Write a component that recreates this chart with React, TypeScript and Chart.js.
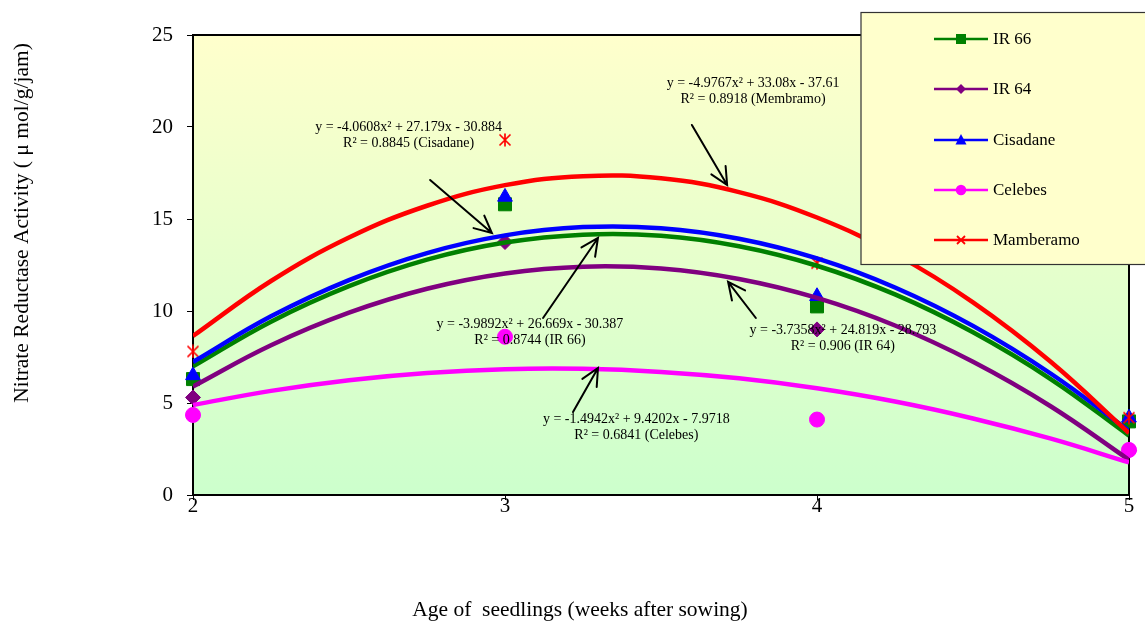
import React, { useEffect, useRef } from 'react';
import { Chart, registerables } from 'chart.js';

Chart.register(...registerables);

// ---- Data ----
const weeks = [2, 3, 4, 5];
const ir66 = [6.3, 15.8, 10.25, 4.0];
const ir64 = [5.3, 13.75, 9.0, 2.4];
const cisadane = [6.5, 16.2, 10.8, 4.2];
const celebes = [4.35, 8.6, 4.1, 2.45];
const mamberamo = [7.8, 19.3, 12.6, 4.2];

// Trend-line samples
const trendX = [2, 2.25, 2.5, 2.75, 3, 3.25, 3.5, 3.75, 4, 4.25, 4.5, 4.75, 5];
const trendIR66 = [6.99, 9.42, 11.35, 12.79, 13.72, 14.15, 14.09, 13.52, 12.46, 10.9, 8.84, 6.29, 3.23];
const trendIR64 = [5.9, 8.14, 9.91, 11.21, 12.04, 12.41, 12.31, 11.74, 10.71, 9.21, 7.24, 4.81, 1.91];
const trendCisadane = [7.23, 9.71, 11.68, 13.15, 14.11, 14.56, 14.5, 13.93, 12.86, 11.28, 9.19, 6.59, 3.49];
const trendCelebes = [4.89, 5.66, 6.24, 6.63, 6.84, 6.86, 6.69, 6.34, 5.8, 5.08, 4.16, 3.06, 1.77];
const trendMamberamo = [8.64, 11.63, 13.99, 15.72, 16.84, 17.33, 17.21, 16.46, 15.08, 13.09, 10.47, 7.23, 3.37];

const seriesNames = ['IR 66', 'IR 64', 'Cisadane', 'Celebes', 'Mamberamo'];
const xTicks = [2, 3, 4, 5];
const yTicks = [0, 5, 10, 15, 20, 25];

const COLORS = ['#008000', '#800080', '#0000FF', '#FF00FF', '#FF0000'];
const SERIF = "'Liberation Serif', 'DejaVu Serif', serif";

const annotations = [
  { lines: ['y = -4.0608x\u00B2 + 27.179x - 30.884', 'R\u00B2 = 0.8845 (Cisadane)'], at: [2.691, 19.97], from: [2.76, 17.12], to: [2.958, 14.24] },
  { lines: ['y = -4.9767x\u00B2 + 33.08x - 37.61', 'R\u00B2 = 0.8918 (Membramo)'], at: [3.795, 22.39], from: [3.599, 20.11], to: [3.712, 16.85] },
  { lines: ['y = -3.9892x\u00B2 + 26.669x - 30.387', 'R\u00B2 = 0.8744 (IR 66)'], at: [3.08, 9.29], from: [3.122, 9.62], to: [3.298, 13.97] },
  { lines: ['y = -3.7358x\u00B2 + 24.819x - 28.793', 'R\u00B2 = 0.906 (IR 64)'], at: [4.083, 8.97], from: [3.804, 9.62], to: [3.715, 11.58] },
  { lines: ['y = -1.4942x\u00B2 + 9.4202x - 7.9718', 'R\u00B2 = 0.6841 (Celebes)'], at: [3.421, 4.13], from: [3.218, 4.51], to: [3.298, 6.9] },
];

function makeStar(color: string, size: number, lw: number) {
  const c = document.createElement('canvas');
  c.width = size;
  c.height = size;
  const g = c.getContext('2d')!;
  g.strokeStyle = color;
  g.lineWidth = lw;
  const m = 1.5;
  g.beginPath();
  g.moveTo(m, m);
  g.lineTo(size - m, size - m);
  g.moveTo(size - m, m);
  g.lineTo(m, size - m);
  g.moveTo(size / 2, 0.5);
  g.lineTo(size / 2, size - 0.5);
  g.stroke();
  return c;
}

function drawMarker(ctx: CanvasRenderingContext2D, kind: number, x: number, y: number, s: number, color: string) {
  ctx.save();
  ctx.fillStyle = color;
  ctx.strokeStyle = color;
  ctx.beginPath();
  if (kind === 0) {
    ctx.rect(x - s, y - s, 2 * s, 2 * s);
    ctx.fill();
  } else if (kind === 1) {
    ctx.moveTo(x, y - s * 1.1);
    ctx.lineTo(x + s * 1.1, y);
    ctx.lineTo(x, y + s * 1.1);
    ctx.lineTo(x - s * 1.1, y);
    ctx.closePath();
    ctx.fill();
  } else if (kind === 2) {
    ctx.moveTo(x, y - s * 1.2);
    ctx.lineTo(x + s * 1.1, y + s * 0.9);
    ctx.lineTo(x - s * 1.1, y + s * 0.9);
    ctx.closePath();
    ctx.fill();
  } else if (kind === 3) {
    ctx.arc(x, y, s * 1.05, 0, Math.PI * 2);
    ctx.fill();
  } else {
    ctx.lineWidth = 1.8;
    ctx.moveTo(x - s, y - s);
    ctx.lineTo(x + s, y + s);
    ctx.moveTo(x + s, y - s);
    ctx.lineTo(x - s, y + s);
    ctx.stroke();
  }
  ctx.restore();
}

function drawArrow(ctx: CanvasRenderingContext2D, x1: number, y1: number, x2: number, y2: number) {
  const ang = Math.atan2(y2 - y1, x2 - x1);
  const head = 19;
  const spread = 0.45;
  ctx.save();
  ctx.strokeStyle = '#000';
  ctx.lineWidth = 2;
  ctx.lineCap = 'round';
  ctx.beginPath();
  ctx.moveTo(x1, y1);
  ctx.lineTo(x2, y2);
  ctx.moveTo(x2 - head * Math.cos(ang - spread), y2 - head * Math.sin(ang - spread));
  ctx.lineTo(x2, y2);
  ctx.lineTo(x2 - head * Math.cos(ang + spread), y2 - head * Math.sin(ang + spread));
  ctx.stroke();
  ctx.restore();
}

const decorPlugin = {
  id: 'decor',
  beforeDatasetsDraw(chart: any) {
    const { ctx, chartArea: a } = chart;
    ctx.save();
    const grad = ctx.createLinearGradient(0, a.top, 0, a.bottom);
    grad.addColorStop(0, '#FFFFCC');
    grad.addColorStop(1, '#CCFFCC');
    ctx.fillStyle = grad;
    ctx.fillRect(a.left, a.top, a.right - a.left, a.bottom - a.top);
    ctx.strokeStyle = '#000';
    ctx.lineWidth = 2;
    ctx.strokeRect(a.left, a.top, a.right - a.left, a.bottom - a.top);
    ctx.restore();
  },
  afterDatasetsDraw(chart: any) {
    const { ctx } = chart;
    const xs = chart.scales.x;
    const ys = chart.scales.y;
    ctx.save();
    ctx.fillStyle = '#000';
    ctx.font = `14px ${SERIF}`;
    ctx.textAlign = 'center';
    ctx.textBaseline = 'middle';
    annotations.forEach((an) => {
      const cx = xs.getPixelForValue(an.at[0]);
      const cy = ys.getPixelForValue(an.at[1]);
      an.lines.forEach((l, i) => ctx.fillText(l, cx, cy + i * 16));
      drawArrow(
        ctx,
        xs.getPixelForValue(an.from[0]),
        ys.getPixelForValue(an.from[1]),
        xs.getPixelForValue(an.to[0]),
        ys.getPixelForValue(an.to[1])
      );
    });
    ctx.restore();
  },
  afterDraw(chart: any) {
    const { ctx } = chart;
    ctx.save();
    // Legend box
    ctx.fillStyle = '#FFFFCC';
    ctx.fillRect(861, 12.5, 300, 252);
    ctx.strokeStyle = '#333';
    ctx.lineWidth = 1.2;
    ctx.strokeRect(861, 12.5, 300, 252);
    const rowY = [39, 89, 140, 190, 240];
    const sizes = [5, 4.5, 5, 5, 4];
    seriesNames.forEach((name, i) => {
      const y = rowY[i];
      ctx.strokeStyle = COLORS[i];
      ctx.lineWidth = 2.5;
      ctx.beginPath();
      ctx.moveTo(934, y);
      ctx.lineTo(988, y);
      ctx.stroke();
      drawMarker(ctx, i, 961, y, sizes[i], COLORS[i]);
      ctx.fillStyle = '#000';
      ctx.font = `17px ${SERIF}`;
      ctx.textAlign = 'left';
      ctx.textBaseline = 'middle';
      ctx.fillText(name, 993, y + 1);
    });
    // Axis titles
    ctx.fillStyle = '#000';
    ctx.font = `21.5px ${SERIF}`;
    ctx.textAlign = 'center';
    ctx.textBaseline = 'middle';
    ctx.fillText('Age of  seedlings (weeks after sowing)', 580, 610);
    ctx.translate(22, 223);
    ctx.rotate(-Math.PI / 2);
    ctx.fillText('Nitrate Reductase Activity ( \u03BC mol/g/jam)', 0, 0);
    ctx.restore();
  },
};

export default function App() {
  const ref = useRef<HTMLCanvasElement | null>(null);

  useEffect(() => {
    document.body.style.margin = '0';
    if (!ref.current) return;
    const star = makeStar('#FF0000', 14, 1.7);
    const pts = (arr: number[]) => weeks.map((w, i) => ({ x: w, y: arr[i] }));
    const trend = (arr: number[]) => trendX.map((w, i) => ({ x: w, y: arr[i] }));
    const values = [ir66, ir64, cisadane, celebes, mamberamo];
    const trends = [trendIR66, trendIR64, trendCisadane, trendCelebes, trendMamberamo];
    const styles: any[] = ['rect', 'rectRot', 'triangle', 'circle', star];
    const radii = [9.2, 7.5, 8.5, 7.5, 7];

    const markerSets = values.map((v, i) => ({
      type: 'scatter',
      label: seriesNames[i],
      data: pts(v),
      showLine: false,
      clip: false,
      pointStyle: styles[i],
      pointRadius: radii[i],
      pointBackgroundColor: COLORS[i],
      pointBorderColor: COLORS[i],
      pointBorderWidth: 1,
      order: 10 - i,
    }));
    const trendSets = trends.map((t, i) => ({
      type: 'line',
      label: seriesNames[i] + ' trend',
      data: trend(t),
      showLine: true,
      borderColor: COLORS[i],
      borderWidth: 4.5,
      pointRadius: 0,
      tension: 0.4,
      fill: false,
      order: 5 - i,
    }));

    const chart = new Chart(ref.current, {
      type: 'scatter',
      data: { datasets: [...markerSets, ...trendSets] as any },
      options: {
        animation: false,
        responsive: true,
        maintainAspectRatio: false,
        layout: { padding: { top: 35, right: 16, left: 0, bottom: 0 } },
        plugins: { legend: { display: false }, tooltip: { enabled: false } },
        scales: {
          x: {
            type: 'linear',
            min: 2,
            max: 5,
            afterBuildTicks: (s: any) => {
              s.ticks = xTicks.map((v) => ({ value: v }));
            },
            afterFit: (s: any) => {
              s.height = 129;
            },
            ticks: { color: '#000', font: { family: SERIF, size: 21 }, padding: -6 },
            grid: { drawOnChartArea: false, drawTicks: true, tickLength: 5, color: '#000' },
            border: { display: false },
          },
          y: {
            type: 'linear',
            min: 0,
            max: 25,
            afterBuildTicks: (s: any) => {
              s.ticks = yTicks.map((v) => ({ value: v }));
            },
            afterFit: (s: any) => {
              s.width = 193;
            },
            ticks: { color: '#000', font: { family: SERIF, size: 21 }, padding: 14 },
            grid: { drawOnChartArea: false, drawTicks: true, tickLength: 6, color: '#000' },
            border: { display: false },
          },
        },
      },
      plugins: [decorPlugin],
    } as any);
    return () => chart.destroy();
  }, []);

  return (
    <div style={{ position: 'fixed', left: 0, top: 0, width: 1145, height: 624, background: '#fff' }}>
      <canvas ref={ref} />
    </div>
  );
}
